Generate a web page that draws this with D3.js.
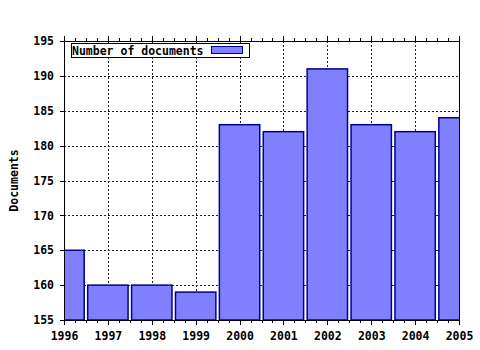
<!DOCTYPE html>
<html>
<head>
<meta charset="utf-8">
<script src="https://cdn.jsdelivr.net/npm/d3@7"></script>
<style>
  html, body { margin: 0; padding: 0; background: #fff; }
  svg { display: block; }
  text { font-family: "DejaVu Sans Mono", "Liberation Mono", monospace; font-weight: bold; fill: #000; }
</style>
</head>
<body>
<svg id="chart" width="480" height="350"></svg>
<script>
const years = [1996, 1997, 1998, 1999, 2000, 2001, 2002, 2003, 2004, 2005];
const documents = [165, 160, 160, 159, 183, 182, 191, 183, 182, 184];
const yTicks = [155, 160, 165, 170, 175, 180, 185, 190, 195];
const seriesName = "Number of documents";
const yTitle = "Documents";

const svg = d3.select("#chart");
const m = { left: 64, right: 459, top: 41, bottom: 320 };

const x = d3.scaleLinear().domain([1996, 2005]).range([m.left, m.right]);
const y = d3.scaleLinear().domain([155, 195]).range([m.bottom, m.top]);
const step = x(1997) - x(1996);
const barW = step * 0.92;

svg.append("defs").append("clipPath").attr("id", "plotclip")
  .append("rect").attr("x", m.left).attr("y", m.top)
  .attr("width", m.right - m.left).attr("height", m.bottom - m.top);

// gridlines
const grid = svg.append("g").attr("stroke", "#222").attr("stroke-width", 1)
  .attr("stroke-dasharray", "2,2").attr("shape-rendering", "crispEdges");
grid.selectAll("line.h").data(yTicks.slice(1, -1)).join("line")
  .attr("x1", m.left).attr("x2", m.right)
  .attr("y1", d => Math.round(y(d)) + 0.5).attr("y2", d => Math.round(y(d)) + 0.5);
grid.selectAll("line.v").data(years.slice(1, -1)).join("line")
  .attr("y1", m.top).attr("y2", m.bottom)
  .attr("x1", d => Math.round(x(d)) + 0.5).attr("x2", d => Math.round(x(d)) + 0.5);

// bars
svg.append("g").attr("clip-path", "url(#plotclip)")
  .selectAll("rect").data(years).join("rect")
  .attr("x", d => x(d) - barW / 2)
  .attr("width", barW)
  .attr("y", (d, i) => y(documents[i]))
  .attr("height", (d, i) => y(155) - y(documents[i]))
  .attr("fill", "#8080ff")
  .attr("stroke", "#00008b")
  .attr("stroke-width", 1.5);

// axes
const xMinor = d3.range(1996, 2005.01, 0.25);
const bottomMinor = d3.axisBottom(x).tickValues(xMinor).tickSize(3).tickFormat("");
const bottomMajor = d3.axisBottom(x).tickValues(years).tickSize(5).tickFormat(d3.format("d")).tickPadding(7);
const topMinor = d3.axisTop(x).tickValues(xMinor).tickSize(3).tickFormat("");
const topMajor = d3.axisTop(x).tickValues(years).tickSize(5).tickFormat("");
const leftAxis = d3.axisLeft(y).tickValues(yTicks).tickSize(4).tickPadding(6).tickFormat(d3.format("d"));
const rightAxis = d3.axisRight(y).tickValues([]).tickSize(0);

function style(g) {
  g.selectAll("path, line").attr("stroke", "#000").attr("shape-rendering", "crispEdges");
  g.selectAll("text").attr("font-size", "11.5px").attr("font-family", "DejaVu Sans Mono").attr("font-weight", "bold");
}
svg.append("g").attr("transform", `translate(0,${m.bottom})`).call(bottomMinor).call(style).select(".domain").attr("d", `M${m.left},0.5H${m.right}`);
svg.append("g").attr("transform", `translate(0,${m.bottom})`).call(bottomMajor).call(style).select(".domain").remove();
svg.append("g").attr("transform", `translate(0,${m.top})`).call(topMinor).call(style);
svg.append("g").attr("transform", `translate(0,${m.top})`).call(topMajor).call(style).select(".domain").remove();
svg.append("g").attr("transform", `translate(${m.left},0)`).call(leftAxis).call(style);
svg.append("g").attr("transform", `translate(${m.right},0)`).call(rightAxis).call(style);
svg.selectAll(".domain").attr("fill", "none");

// y title
svg.append("text")
  .attr("transform", `translate(18,${(m.top + m.bottom) / 2}) rotate(-90)`)
  .attr("text-anchor", "middle")
  .attr("font-size", "11.5px")
  .text(yTitle);

// legend
const lg = svg.append("g");
lg.append("rect").attr("x", 71.5).attr("y", 43.5).attr("width", 178).attr("height", 14)
  .attr("fill", "#fff").attr("stroke", "#000").attr("stroke-width", 1);
lg.append("text").attr("x", 72).attr("y", 54.5).attr("font-size", "11.5px").text(seriesName);
lg.append("rect").attr("x", 211.5).attr("y", 46.5).attr("width", 31).attr("height", 7)
  .attr("fill", "#8080ff").attr("stroke", "#00008b").attr("stroke-width", 1);
</script>
</body>
</html>
